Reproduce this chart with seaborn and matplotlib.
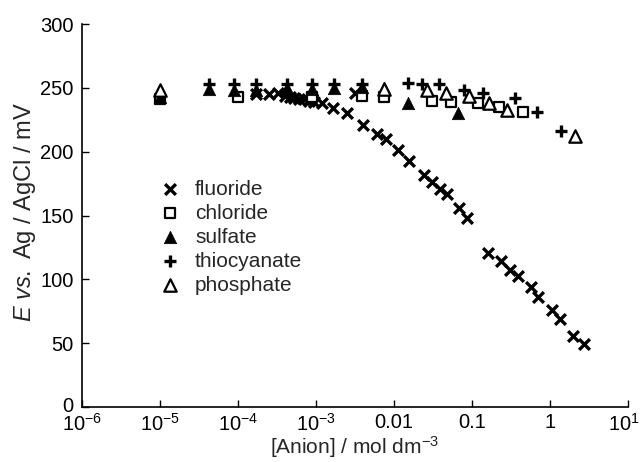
import numpy as np
import pandas as pd
import matplotlib
matplotlib.use("Agg")
import matplotlib.pyplot as plt
import matplotlib.transforms as mtransforms
import seaborn as sns

sns.set_style("ticks")
plt.rcParams['font.family'] = ['Liberation Sans', 'DejaVu Sans']
plt.rcParams['mathtext.fontset'] = 'custom'
plt.rcParams['mathtext.rm'] = 'Liberation Sans'
plt.rcParams['mathtext.it'] = 'Liberation Sans:italic'
plt.rcParams['mathtext.default'] = 'regular'

# ---- data ----
fluoride_x = [1.7e-4, 2.5e-4, 3.3e-4, 4.0e-4, 4.6e-4, 5.3e-4, 6.0e-4, 7.0e-4, 8.2e-4, 9.5e-4,
              1.2e-3, 1.67e-3, 2.48e-3, 3.2e-3, 4.04e-3, 6.0e-3, 7.9e-3, 0.0113, 0.0157, 0.0243,
              0.031, 0.0389, 0.0474, 0.068, 0.0855, 0.162, 0.233, 0.307, 0.393, 0.57,
              0.708, 1.05, 1.34, 1.95, 2.73]
fluoride_y = [245, 245, 246, 244, 243, 242, 241, 241, 240, 239,
              238, 234, 230, 246, 221, 214, 210, 201, 193, 182,
              176, 171, 167, 156, 148, 121, 114, 107, 103, 94,
              86, 76, 69, 56, 49]

chloride_x = [1e-5, 1e-4, 9e-4, 3.9e-3, 7.5e-3, 0.0304, 0.0533, 0.12, 0.224, 0.455]
chloride_y = [241, 243, 243, 244, 243, 240, 239, 238, 235, 231]

sulfate_x = [1e-5, 4.2e-5, 9e-5, 1.7e-4, 4.2e-4, 9e-4, 1.7e-3, 3.9e-3, 7.5e-3, 0.0152, 0.0667]
sulfate_y = [243, 249, 248, 248, 250, 249, 250, 251, 250, 238, 230]

thiocyanate_x = [4.2e-5, 9e-5, 1.7e-4, 4.2e-4, 9e-4, 1.7e-3, 3.9e-3, 0.0152, 0.0226, 0.038,
                 0.0794, 0.137, 0.356, 0.675, 1.37]
thiocyanate_y = [253, 253, 253, 253, 253, 253, 253, 253.5, 253, 253,
                 248, 246, 242, 231, 216]

phosphate_x = [1e-5, 7.5e-3, 0.0267, 0.0465, 0.0925, 0.166, 0.284, 2.09]
phosphate_y = [248, 249, 248, 246, 244, 238, 233, 212]

series_names = ["fluoride", "chloride", "sulfate", "thiocyanate", "phosphate"]
x_ticks = [1e-6, 1e-5, 1e-4, 1e-3, 1e-2, 1e-1, 1, 10]
x_tick_labels = ["10$^{-6}$", "10$^{-5}$", "10$^{-4}$", "10$^{-3}$", "0.01", "0.1", "1", "10$^{1}$"]
y_ticks = [0, 50, 100, 150, 200, 250, 300]

data = {
    "fluoride": (fluoride_x, fluoride_y),
    "chloride": (chloride_x, chloride_y),
    "sulfate": (sulfate_x, sulfate_y),
    "thiocyanate": (thiocyanate_x, thiocyanate_y),
    "phosphate": (phosphate_x, phosphate_y),
}

styles = {
    "fluoride": dict(marker="x", s=60, color="black", linewidth=2.4),
    "chloride": dict(marker="s", s=60, facecolor="white", edgecolor="black", linewidth=1.6),
    "sulfate": dict(marker="^", s=80, color="black", edgecolor="black", linewidth=0.5),
    "thiocyanate": dict(marker="+", s=65, color="black", linewidth=2.4),
    "phosphate": dict(marker="^", s=80, facecolor="white", edgecolor="black", linewidth=1.6),
}

fig = plt.figure(figsize=(6.42, 4.62), dpi=100)
ax = fig.add_axes([0.1277, 0.119, 0.8503, 0.829])

for name in series_names:
    xs, ys = data[name]
    df = pd.DataFrame({"x": xs, "y": ys})
    sns.scatterplot(data=df, x="x", y="y", ax=ax, label=name, zorder=3, **styles[name])

ax.set_xscale("log")
ax.set_xlim(1e-6, 10)
ax.set_ylim(0, 300)
ax.set_xticks(x_ticks)
ax.set_xticklabels(x_tick_labels)
ax.xaxis.set_minor_locator(matplotlib.ticker.NullLocator())
ax.set_yticks(y_ticks)
ax.tick_params(direction="in", length=5, width=1, labelsize=14.5, colors="black")
ax.tick_params(axis="x", pad=4)
ax.tick_params(axis="y", pad=6)
for s in ["top", "right"]:
    ax.spines[s].set_visible(False)
for s in ["left", "bottom"]:
    ax.spines[s].set_linewidth(1.2)
    ax.spines[s].set_color("black")

# keep the last x tick label inside the canvas
last = ax.get_xticklabels()[-1]
last.set_transform(last.get_transform() + mtransforms.ScaledTranslation(-4 / 100, 0, fig.dpi_scale_trans))
# lift the "0" y tick label a touch so it clears the first x tick label
zero = ax.get_yticklabels()[0]
zero.set_transform(zero.get_transform() + mtransforms.ScaledTranslation(0, 3 / 100, fig.dpi_scale_trans))

ax.set_xlabel("[Anion] / mol dm$^{-3}$", fontsize=15, labelpad=0)
ax.set_ylabel("$\\it{E}$ $\\it{vs.}$ Ag / AgCl / mV", fontsize=17)
ax.yaxis.set_label_coords(-0.08, 0.51)

leg = ax.legend(frameon=False, loc="upper left", bbox_to_anchor=(0.127, 0.615),
                fontsize=15, handletextpad=0.7, labelspacing=0.24, borderaxespad=0,
                handlelength=1.0)

fig.savefig("out.png", dpi=100)
